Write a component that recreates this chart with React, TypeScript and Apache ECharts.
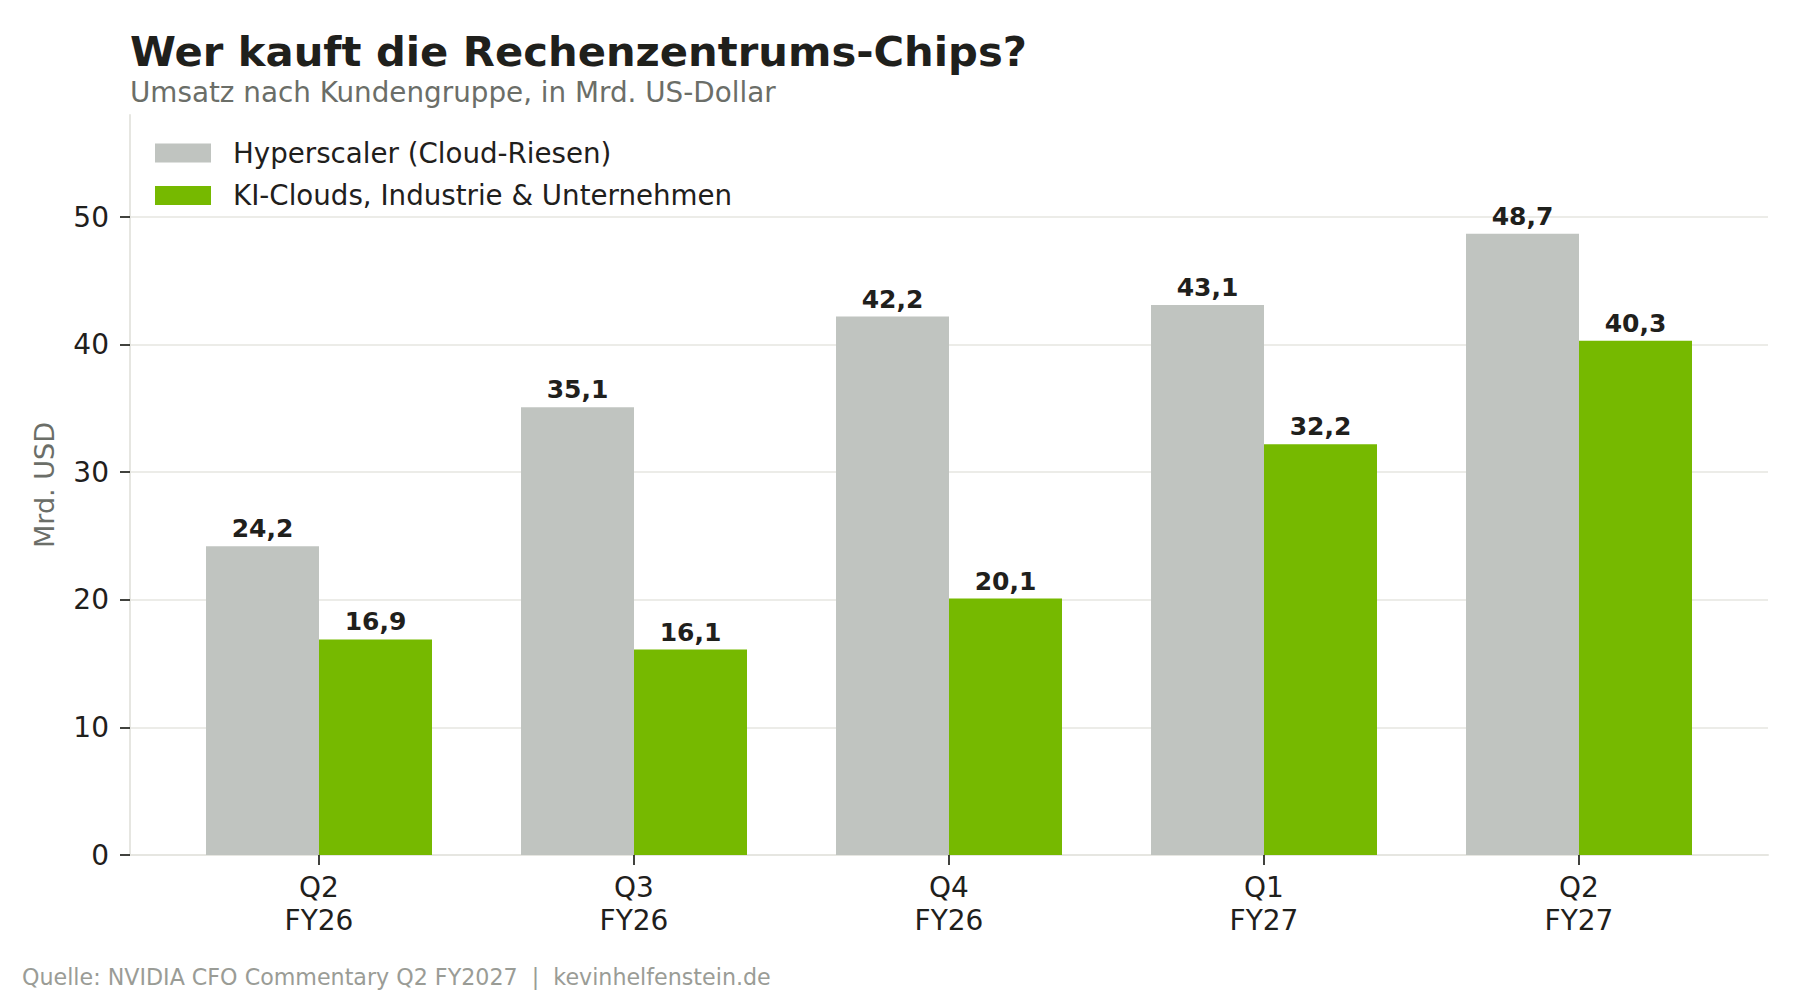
import React, { useEffect, useRef } from "react";
import * as echarts from "echarts";

const quarters = ["Q2", "Q3", "Q4", "Q1", "Q2"];
const fiscalYears = ["FY26", "FY26", "FY26", "FY27", "FY27"];
const hyperscaler = [24.2, 35.1, 42.2, 43.1, 48.7];
const kiClouds = [16.9, 16.1, 20.1, 32.2, 40.3];
const yTicks = [0, 10, 20, 30, 40, 50];
const seriesNames = ["Hyperscaler (Cloud-Riesen)", "KI-Clouds, Industrie & Unternehmen"];
const titleText = "Wer kauft die Rechenzentrums-Chips?";
const subtitleText = "Umsatz nach Kundengruppe, in Mrd. US-Dollar";
const footerText = "Quelle: NVIDIA CFO Commentary Q2 FY2027  |  kevinhelfenstein.de";
const yAxisName = "Mrd. USD";

const FONT = "DejaVu Sans";
const DARK = "#1f201c";
const GRID = "#e6e6e1";

const fmt = (v: number) => v.toFixed(1).replace(".", ",");

export default function App() {
  const ref = useRef<HTMLDivElement>(null);
  useEffect(() => {
    if (!ref.current) return;
    const chart = echarts.init(ref.current, null, { renderer: "svg" });
    const xIdx = quarters.map((_, i) => i);
    const labelStyle = {
      show: true,
      position: "top" as const,
      distance: 5,
      fontFamily: FONT,
      fontSize: 25,
      fontWeight: "bold" as const,
      color: DARK,
      formatter: (p: any) => fmt(p.value[1]),
    };
    chart.setOption({
      animation: false,
      backgroundColor: "#ffffff",
      textStyle: { fontFamily: FONT },
      grid: { left: 130, right: 32, top: 115, bottom: 145, containLabel: false, outerBoundsMode: "none" },
      legend: {
        data: seriesNames,
        orient: "vertical",
        left: 155,
        top: 139,
        padding: 0,
        itemGap: 14.5,
        itemWidth: 56,
        itemHeight: 19,
        icon: "rect",
        selectedMode: false,
        textStyle: { fontFamily: FONT, fontSize: 27.7, color: DARK, lineHeight: 28, padding: [0, 0, 0, 17] },
      },
      xAxis: {
        type: "value",
        min: -0.6,
        max: 4.6,
        splitLine: { show: false },
        axisLine: { show: true, onZero: false, lineStyle: { color: GRID, width: 2 } },
        axisTick: { show: true, customValues: xIdx, length: 10, lineStyle: { color: DARK, width: 1.7 } },
        axisLabel: {
          customValues: xIdx,
          margin: 16,
          fontFamily: FONT,
          fontSize: 28,
          lineHeight: 33,
          color: DARK,
          formatter: (v: number) => {
            const i = Math.round(v);
            return quarters[i] + "\n" + fiscalYears[i];
          },
        },
      },
      yAxis: {
        type: "value",
        min: 0,
        max: 58,
        name: yAxisName,
        nameLocation: "middle",
        nameGap: 72,
        nameTextStyle: { fontFamily: FONT, fontSize: 27, color: "#6b6e68" },
        axisLine: { show: true, onZero: false, lineStyle: { color: GRID, width: 2 } },
        axisTick: { show: true, customValues: yTicks, length: 10, lineStyle: { color: DARK, width: 1.7 } },
        axisLabel: { customValues: yTicks, margin: 21, fontFamily: FONT, fontSize: 28, color: DARK },
        splitLine: { show: true, lineStyle: { color: GRID, width: 1.7 } },
      },
      series: [
        {
          name: seriesNames[0],
          type: "bar",
          barWidth: 113,
          barGap: "0%",
          itemStyle: { color: "#c0c4c0" },
          label: labelStyle,
          data: hyperscaler.map((v, i) => [xIdx[i], v]),
        },
        {
          name: seriesNames[1],
          type: "bar",
          barWidth: 113,
          barGap: "0%",
          itemStyle: { color: "#76b900" },
          label: labelStyle,
          data: kiClouds.map((v, i) => [xIdx[i], v]),
        },
      ],
      graphic: [
        {
          type: "text",
          left: 130,
          top: 30,
          style: { text: titleText, fontFamily: FONT, fontSize: 41.7, fontWeight: "bold", fill: DARK },
        },
        {
          type: "text",
          left: 130,
          top: 78,
          style: { text: subtitleText, fontFamily: FONT, fontSize: 27.8, fill: "#6b6e68" },
        },
        {
          type: "text",
          left: 22,
          top: 966,
          style: { text: footerText, fontFamily: FONT, fontSize: 22.2, fill: "#9a9c96" },
        },
      ],
    });
    return () => chart.dispose();
  }, []);
  return <div ref={ref} style={{ position: "fixed", left: 0, top: 0, width: 1800, height: 1000 }} />;
}
